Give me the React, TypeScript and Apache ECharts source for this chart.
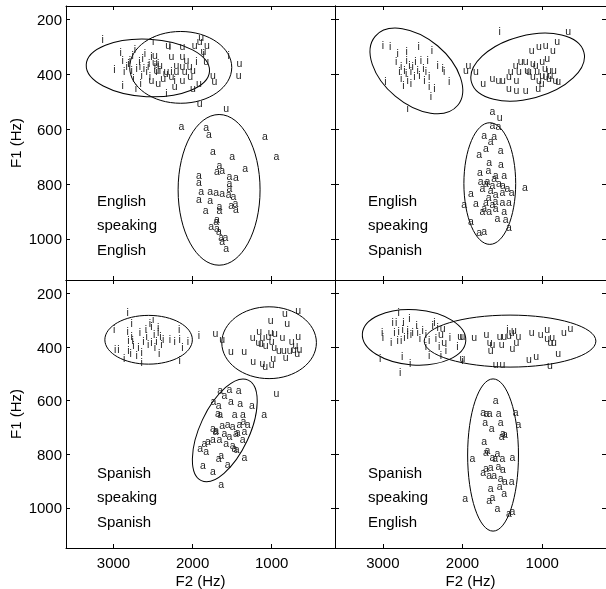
import React, { useEffect, useRef } from "react";
import * as echarts from "echarts";

type P = [number, number];
type Ell = [number, number, number, number, number]; // F2 centre, F1 centre, F2 semi-axis (Hz), F1 semi-axis (Hz), rotation (deg, ccw)

const FONT = '"Liberation Sans", Arial, Helvetica, sans-serif';
const MARK_COLOR = "#1a1a1a";

const F2_RANGE = [200, 3600];
const F1_RANGE = [150, 1150];
const F2_TICKS = [1000, 2000, 3000];
const F1_TICKS = [200, 400, 600, 800, 1000];
const X_NAME = "F2 (Hz)";
const Y_NAME = "F1 (Hz)";
const VOWELS = ["i", "u", "a"];
const PANEL_LABELS = [
  "English\nspeaking\nEnglish",
  "English\nspeaking\nSpanish",
  "Spanish\nspeaking\nSpanish",
  "Spanish\nspeaking\nEnglish",
];

// ---- English speakers, English vowels ----
const EE_I: P[] = [
  [3138, 271], [2987, 380], [2908, 319], [2883, 346], [2866, 388], [2883, 437], [2833, 370], [2791, 346],
  [2757, 328], [2728, 307], [2707, 376], [2715, 449], [2673, 352], [2657, 431], [2632, 340], [2615, 376],
  [2581, 388], [2548, 358], [2519, 334], [2498, 279], [2477, 364], [2435, 358], [2414, 382], [2330, 468],
  [2288, 297], [2267, 388], [2226, 419], [1953, 352], [1861, 322], [1543, 328], [2812, 358], [2770, 382],
  [2665, 370], [2560, 370], [2456, 388], [2644, 400], [2540, 407], [2749, 413], [2602, 322],
];
const EE_U: P[] = [
  [2309, 291], [2129, 295], [1974, 291], [1912, 279], [1891, 263], [1820, 291], [1862, 316], [2477, 328],
  [2477, 356], [2414, 364], [2267, 334], [2205, 364], [2129, 334], [2079, 346], [2037, 370], [2129, 370],
  [1828, 352], [1744, 401], [1723, 425], [2519, 419], [2435, 431], [2372, 413], [2339, 395], [2267, 407],
  [2226, 443], [2129, 421], [2032, 407], [1996, 449], [1920, 431], [1409, 358], [1417, 401], [1912, 504],
  [1577, 522], [2456, 382], [2330, 388], [2205, 388], [2100, 388], [1996, 385],
];
const EE_A: P[] = [
  [2142, 587], [1828, 592], [1794, 616], [1744, 680], [1501, 699], [1087, 626], [940, 696], [1334, 741],
  [1660, 729], [1693, 753], [1627, 750], [1920, 765], [1920, 793], [1534, 771], [1451, 774], [1534, 795],
  [1534, 814], [1891, 826], [1778, 826], [1702, 830], [1627, 832], [1543, 835], [1484, 845], [1920, 854],
  [1778, 859], [1660, 879], [1513, 875], [1459, 870], [1451, 891], [1836, 893], [1660, 896], [1693, 928],
  [1702, 933], [1765, 954], [1693, 960], [1668, 972], [1639, 993], [1585, 993], [1627, 1009], [1577, 1033],
];
const EE_ELL: Ell[] = [
  [2565, 376, 780, 105, -3],
  [2150, 374, 645, 131, 0],
  [1665, 821, 518, 275, 0],
];

// ---- English speakers, Spanish vowels ----
const ES_I: P[] = [
  [3000, 291], [2908, 297], [2813, 322], [2700, 316], [2550, 297], [2383, 309], [2700, 346], [2833, 352],
  [2771, 370], [2729, 382], [2667, 364], [2625, 370], [2592, 352], [2563, 382], [2521, 346], [2492, 376],
  [2458, 388], [2438, 346], [2417, 407], [2313, 364], [2250, 376], [2229, 388], [2167, 425], [2354, 449],
  [2396, 480], [2771, 413], [2742, 437], [2646, 431], [2967, 425], [2688, 522], [1533, 243], [2708, 395],
  [2792, 388], [2542, 401], [2417, 443], [2479, 419], [2688, 419], [2646, 388], [2604, 407],
];
const ES_U: P[] = [
  [675, 243], [1958, 382], [1925, 364], [1833, 388], [1742, 431], [1625, 413], [1550, 419], [1492, 419],
  [1417, 407], [1396, 388], [1325, 419], [1333, 364], [1292, 388], [1271, 352], [1208, 352], [1188, 382],
  [1417, 449], [1325, 455], [1208, 455], [1133, 309], [1042, 297], [958, 291], [867, 309], [813, 279],
  [1117, 358], [1083, 364], [1000, 352], [1063, 388], [1117, 407], [1042, 419], [1050, 449], [1008, 431],
  [958, 407], [917, 382], [896, 401], [854, 382], [833, 419], [800, 425], [967, 376], [938, 340],
  [917, 413], [1000, 401], [1167, 388], [1533, 555],
];
const ES_A: P[] = [
  [1625, 535], [1625, 583], [1550, 587], [1729, 620], [1604, 626], [1646, 644], [1792, 690], [1708, 669],
  [1521, 675], [1667, 720], [1517, 726], [1783, 756], [1675, 748], [1583, 766], [1479, 766], [1771, 790],
  [1708, 796], [1625, 802], [1542, 796], [1492, 802], [1438, 814], [1750, 815], [1646, 823], [1583, 835],
  [1500, 829], [1383, 829], [1896, 831], [1217, 811], [1671, 848], [1588, 860], [1500, 866], [1417, 866],
  [1979, 872], [1833, 870], [1729, 886], [1750, 898], [1667, 898], [1583, 886], [1479, 898], [1563, 923],
  [1458, 929], [1896, 935], [1417, 956], [1792, 975], [1729, 972], [1688, 790], [1604, 778], [1708, 866],
  [1625, 872],
];
const ES_ELL: Ell[] = [
  [2579, 387, 675, 120, -40],
  [1183, 373, 730, 115, 15],
  [1658, 798, 325, 222, 0],
];

// ---- Spanish speakers, Spanish vowels ----
const SS_I: P[] = [
  [2820, 269], [2992, 331], [2820, 339], [2770, 309], [2770, 358], [2812, 373], [2757, 373], [2979, 406],
  [2937, 406], [2812, 412], [2749, 394], [2782, 424], [2866, 442], [2707, 430], [2686, 400], [2644, 418],
  [2665, 345], [2623, 376], [2590, 333], [2581, 358], [2540, 309], [2519, 321], [2498, 297], [2485, 352],
  [2477, 400], [2456, 376], [2435, 345], [2406, 358], [2393, 388], [2422, 424], [2435, 327], [2372, 370],
  [2288, 370], [2226, 376], [2171, 333], [2163, 370], [2129, 400], [2058, 376], [2163, 448], [2644, 457],
  [1920, 355], [2560, 388], [2519, 382],
];
const SS_U: P[] = [
  [1711, 348], [1627, 372], [1514, 416], [1347, 416], [1234, 452], [1116, 461], [1083, 470], [1000, 464],
  [983, 442], [1012, 299], [1012, 343], [1000, 376], [833, 273], [665, 262], [803, 309], [1158, 339],
  [1242, 364], [1167, 382], [1116, 364], [1041, 358], [958, 349], [970, 400], [908, 412], [866, 364],
  [845, 412], [824, 438], [774, 412], [749, 376], [719, 406], [665, 358], [678, 424], [649, 406],
  [699, 391], [1137, 385], [1075, 394], [940, 570],
];
const SS_A: P[] = [
  [1652, 561], [1535, 557], [1417, 561], [1736, 600], [1598, 578], [1514, 600], [1400, 610], [1250, 618],
  [1669, 618], [1681, 646], [1652, 651], [1468, 651], [1363, 649], [1095, 651], [1358, 676], [1409, 688],
  [1556, 688], [1493, 694], [1304, 688], [1744, 703], [1702, 709], [1627, 691], [1598, 721], [1430, 719],
  [1346, 715], [1367, 745], [1744, 745], [1807, 751], [1849, 758], [1660, 745], [1577, 758], [1493, 764],
  [1903, 776], [1828, 788], [1639, 804], [1669, 816], [1472, 776], [1442, 782], [1346, 812], [1870, 840],
  [1556, 836], [1744, 864], [1639, 913], [1711, 715], [1535, 733], [1451, 721],
];
const SS_ELL: Ell[] = [
  [2556, 373, 553, 91, 0],
  [1033, 384, 598, 134, 0],
  [1593, 711, 312, 207, -25],
];

// ---- Spanish speakers, English vowels ----
const SE_I: P[] = [
  [2800, 271], [2875, 307], [2833, 307], [2742, 305], [2667, 292], [2854, 343], [2800, 341], [2750, 331],
  [2688, 337], [3008, 343], [3000, 362], [2896, 380], [2813, 374], [2771, 374], [2729, 362], [2688, 356],
  [2646, 350], [2625, 343], [2575, 319], [2563, 343], [2533, 368], [2500, 337], [2458, 350], [2458, 398],
  [2417, 374], [2375, 319], [2354, 307], [2333, 368], [2313, 325], [2292, 398], [2417, 429], [2271, 429],
  [2208, 410], [2758, 435], [2658, 459], [2783, 495], [3033, 441], [2063, 398], [2158, 362], [1438, 331],
  [2000, 447],
];
const SE_U: P[] = [
  [2250, 329], [2271, 353], [2229, 380], [2029, 358], [2000, 358], [1854, 362], [1700, 350], [1658, 380],
  [1646, 410], [1625, 389], [1533, 358], [1508, 389], [1479, 358], [1417, 355], [1354, 337], [1325, 380],
  [1300, 358], [1375, 405], [1133, 343], [1021, 350], [938, 331], [938, 368], [896, 380], [854, 380],
  [875, 362], [729, 343], [646, 329], [800, 423], [904, 467], [1167, 443], [1075, 435], [1583, 465],
  [1500, 465], [2000, 442], [1383, 343],
];
const SE_A: P[] = [
  [1583, 596], [1742, 641], [1700, 647], [1658, 647], [1717, 678], [1546, 647], [1521, 678], [1333, 641],
  [1300, 686], [1633, 702], [1492, 721], [1508, 733], [1467, 725], [1729, 751], [1688, 783], [1563, 796],
  [1625, 812], [1875, 815], [1592, 815], [1500, 815], [1375, 812], [1708, 852], [1646, 848], [1550, 844],
  [1492, 854], [1667, 878], [1604, 876], [1521, 888], [1467, 900], [1383, 900], [1646, 925], [1533, 917],
  [1479, 945], [1967, 964], [1667, 970], [1625, 958], [1563, 1000], [1417, 1018], [1375, 1012], [1742, 866],
  [1708, 790],
];
const SE_ELL: Ell[] = [
  [2608, 364, 650, 103, -4],
  [1404, 378, 1077, 97, 0],
  [1617, 803, 319, 284, 0],
];

const PANELS = [
  { points: [EE_I, EE_U, EE_A], ellipses: EE_ELL },
  { points: [ES_I, ES_U, ES_A], ellipses: ES_ELL },
  { points: [SS_I, SS_U, SS_A], ellipses: SS_ELL },
  { points: [SE_I, SE_U, SE_A], ellipses: SE_ELL },
];

function buildOption() {
  const boxes = [
    { left: 66, top: 6, width: 269, height: 274 },
    { left: 335, top: 6, width: 272, height: 274 },
    { left: 66, top: 280, width: 269, height: 274 },
    { left: 335, top: 280, width: 272, height: 274 },
  ];
  const labelPos = [
    [97, 188],
    [368, 188],
    [97, 460],
    [368, 460],
  ];
  const axisLine = { show: true, onZero: false, lineStyle: { color: "#000", width: 1 } };
  const labelStyle = { fontSize: 15, color: "#000", fontFamily: FONT };
  const plain = (v: number) => String(v);
  const xAxis: any[] = [];
  const yAxis: any[] = [];
  const series: any[] = [];

  boxes.forEach((_b, g) => {
    const showX = g >= 2;
    const showY = g % 2 === 0;
    ["bottom", "top"].forEach((pos, k) => {
      const lab = showX && k === 0;
      xAxis.push({
        type: "value",
        gridIndex: g,
        position: pos,
        min: F2_RANGE[0],
        max: F2_RANGE[1],
        inverse: true,
        axisLine,
        axisTick: { show: true, inside: true, length: 4, customValues: F2_TICKS, lineStyle: { color: "#000" } },
        axisLabel: { show: lab, customValues: F2_TICKS, margin: 7, formatter: plain, ...labelStyle },
        splitLine: { show: false },
        name: lab ? X_NAME : "",
        nameLocation: "middle",
        nameGap: 25,
        nameMoveOverlap: false,
        nameTextStyle: labelStyle,
      });
    });
    ["left", "right"].forEach((pos, k) => {
      const lab = showY && k === 0;
      yAxis.push({
        type: "value",
        gridIndex: g,
        position: pos,
        min: F1_RANGE[0],
        max: F1_RANGE[1],
        inverse: true,
        axisLine,
        axisTick: { show: true, inside: true, length: 4, customValues: F1_TICKS, lineStyle: { color: "#000" } },
        axisLabel: { show: lab, customValues: F1_TICKS, margin: 4, formatter: plain, ...labelStyle },
        splitLine: { show: false },
        name: lab ? Y_NAME : "",
        nameLocation: "middle",
        nameGap: 43,
        nameRotate: 90,
        nameMoveOverlap: false,
        nameTextStyle: labelStyle,
      });
    });
  });

  PANELS.forEach((p, g) => {
    series.push({
      type: "custom",
      xAxisIndex: 2 * g,
      yAxisIndex: 2 * g,
      data: p.ellipses,
      silent: true,
      clip: false,
      color: "#000",
      itemStyle: { color: "#000" },
      encode: { x: 0, y: 1 },
      renderItem: (_params: any, api: any) => {
        const c = api.coord([api.value(0), api.value(1)]);
        const s = api.size([api.value(2), api.value(3)]);
        return {
          type: "ellipse",
          x: c[0],
          y: c[1],
          rotation: (api.value(4) * Math.PI) / 180,
          shape: { cx: 0, cy: 0, rx: Math.abs(s[0]), ry: Math.abs(s[1]) },
          style: { fill: "none", stroke: "#000", lineWidth: 1 },
        };
      },
    });
    p.points.forEach((pts, v) => {
      series.push({
        type: "custom",
        xAxisIndex: 2 * g,
        yAxisIndex: 2 * g,
        data: pts,
        silent: true,
        color: MARK_COLOR,
        itemStyle: { color: MARK_COLOR },
        encode: { x: 0, y: 1 },
        renderItem: (_params: any, api: any) => {
          const c = api.coord([api.value(0), api.value(1)]);
          return {
            type: "text",
            x: c[0],
            y: c[1],
            style: {
              text: VOWELS[v],
              fill: MARK_COLOR,
              fontSize: 10.5,
              fontFamily: FONT,
              align: "center",
              verticalAlign: "middle",
            },
          };
        },
      });
    });
  });

  return {
    animation: false,
    backgroundColor: "#fff",
    color: [MARK_COLOR],
    grid: boxes,
    xAxis,
    yAxis,
    series,
    graphic: PANEL_LABELS.map((t, g) => ({
      type: "text",
      left: labelPos[g][0],
      top: labelPos[g][1],
      silent: true,
      style: { text: t, fontSize: 15, lineHeight: 24.5, fontFamily: FONT, fill: "#000" },
    })),
  };
}

export default function App() {
  const ref = useRef<HTMLDivElement>(null);
  useEffect(() => {
    if (!ref.current) return;
    const chart = echarts.init(ref.current, undefined, { renderer: "svg" });
    chart.setOption(buildOption() as any);
    return () => chart.dispose();
  }, []);
  return (
    <div
      ref={ref}
      style={{ position: "fixed", left: 0, top: 0, width: 606, height: 589, willChange: "transform" }}
    />
  );
}
